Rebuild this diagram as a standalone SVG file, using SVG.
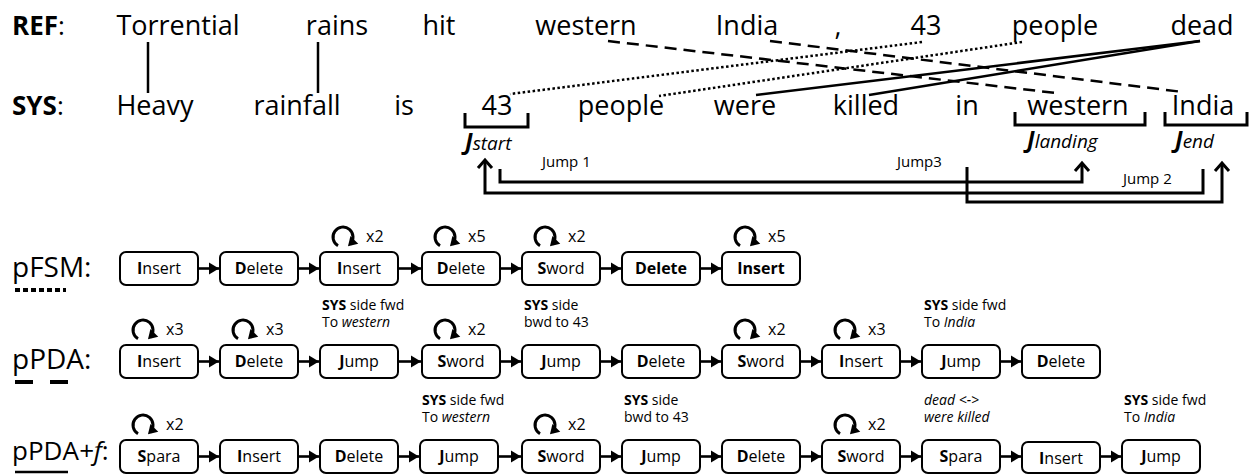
<svg xmlns="http://www.w3.org/2000/svg" width="1250" height="474" viewBox="0 0 1250 474">
<defs>
<style>
.w{font-family:"Open Sans","Liberation Sans",sans-serif;font-size:27px;fill:#000;text-anchor:middle}
.lab{font-family:"Open Sans","Liberation Sans",sans-serif;font-size:26px;fill:#000}
.rl{font-family:"Open Sans","Liberation Sans",sans-serif;font-size:28px;fill:#000}
.b{font-weight:bold}
.j{font-family:"Open Sans","Liberation Sans",sans-serif;font-size:15px;fill:#000}
.J{font-family:"Open Sans","Liberation Sans",sans-serif;font-style:italic;fill:#000}
.box rect{fill:#fff;stroke:#000;stroke-width:2}
.bt{font-family:"Open Sans","Liberation Sans",sans-serif;font-size:16px;fill:#000;text-anchor:middle}
.ann{font-family:"Open Sans","Liberation Sans",sans-serif;font-size:14px;fill:#000}
.cnt{font-family:"Open Sans","Liberation Sans",sans-serif;font-size:16px;fill:#000}
.lp{fill:none;stroke:#000;stroke-width:3;marker-end:url(#lh)}
.ar{fill:none;stroke:#000;stroke-width:2.6;marker-end:url(#tri)}
.al{fill:none;stroke:#000;stroke-width:2.5}
.dash{stroke-dasharray:12 7}
.dot{stroke-dasharray:2.5 2.5}
.jp{fill:none;stroke:#000;stroke-width:3}
</style>
<marker id="tri" markerUnits="userSpaceOnUse" markerWidth="14" markerHeight="14" viewBox="-12 -7 14 14" refX="0" refY="0" orient="auto">
<path d="M-10,-6 L0,0 L-10,6 Z" fill="#000"/>
</marker>
<marker id="lh" markerUnits="userSpaceOnUse" markerWidth="14" markerHeight="14" viewBox="-9 -7 14 14" refX="0" refY="0" orient="auto">
<path d="M-6,-5.5 L3,0 L-6,5.5 Z" fill="#000"/>
</marker>
<marker id="chev" markerUnits="userSpaceOnUse" markerWidth="22" markerHeight="22" viewBox="-11 -11 22 22" refX="0" refY="0" orient="auto">
<path d="M-8,-7 L0,0 L-8,7" fill="none" stroke="#000" stroke-width="3"/>
</marker>
</defs>
<rect width="1250" height="474" fill="#fff"/>

<g id="ref-row">
<text class="lab" x="12" y="35"><tspan class="b">REF</tspan>:</text>
<text class="w" x="178" y="35">Torrential</text>
<text class="w" x="337" y="35">rains</text>
<text class="w" x="439" y="35">hit</text>
<text class="w" x="586" y="35">western</text>
<text class="w" x="747" y="35">India</text>
<text class="w" x="838" y="35">,</text>
<text class="w" x="926" y="35">43</text>
<text class="w" x="1055" y="35">people</text>
<text class="w" x="1202" y="35">dead</text>
</g>

<g id="sys-row">
<text class="lab" x="12" y="115"><tspan class="b">SYS</tspan>:</text>
<text class="w" x="155" y="115">Heavy</text>
<text class="w" x="297" y="115">rainfall</text>
<text class="w" x="404" y="115">is</text>
<text class="w" x="497" y="115">43</text>
<text class="w" x="621" y="115">people</text>
<text class="w" x="745" y="115">were</text>
<text class="w" x="866" y="115">killed</text>
<text class="w" x="967" y="115">in</text>
<text class="w" x="1078" y="115">western</text>
<text class="w" x="1203" y="115">India</text>
</g>

<g id="alignments">
<line class="al" x1="148" y1="42" x2="148" y2="93"/>
<line class="al" x1="318" y1="42" x2="318" y2="93"/>
<line class="al dash" x1="608" y1="41" x2="1056" y2="93"/>
<line class="al dash" x1="770" y1="41" x2="1183" y2="92"/>
<line class="al dot" x1="922" y1="42" x2="510" y2="94"/>
<line class="al dot" x1="1022" y1="42" x2="659" y2="96"/>
<line class="al" x1="1200" y1="41" x2="756" y2="95"/>
<line class="al" x1="1200" y1="41" x2="869" y2="95"/>
</g>

<g id="jump-markers">
<path class="jp" d="M465,113 V127 H528 V113"/>
<path class="jp" d="M1015,112 V125 H1145 V112"/>
<path class="jp" d="M1165,112 V125 H1247 V112"/>
<text class="J" x="465" y="150"><tspan class="b" font-size="23">J</tspan><tspan font-size="19">start</tspan></text>
<text class="J" x="1027" y="148"><tspan class="b" font-size="23">J</tspan><tspan font-size="19">landing</tspan></text>
<text class="J" x="1175" y="148"><tspan class="b" font-size="23">J</tspan><tspan font-size="19">end</tspan></text>
</g>

<g id="jumps">
<path class="jp" d="M500,169 V182 H1082 V163" marker-end="url(#chev)"/>
<path class="jp" d="M1203,169 V193 H485 V160" marker-end="url(#chev)"/>
<path class="jp" d="M967,167 V202 H1222 V163" marker-end="url(#chev)"/>
<text class="j" x="542" y="167">Jump 1</text>
<text class="j" x="897" y="167">Jump3</text>
<text class="j" x="1123" y="184">Jump 2</text>
</g>

<g id="labels">
<text class="rl" x="12" y="277">pFSM:</text>
<line x1="15" y1="290" x2="66" y2="290" stroke="#000" stroke-width="4" stroke-dasharray="5 3"/>
<text class="rl" x="12" y="369">pPDA:</text>
<line x1="15" y1="382" x2="33" y2="382" stroke="#000" stroke-width="4"/>
<line x1="50" y1="382" x2="68" y2="382" stroke="#000" stroke-width="4"/>
<text class="lab" x="12" y="460">pPDA<tspan font-style="italic">+f</tspan>:</text>
<line x1="15" y1="472" x2="68" y2="472" stroke="#000" stroke-width="2.5"/>
</g>

<!-- pFSM row: top 252 -->
<g id="fsm1" class="box"><rect x="120" y="252" width="78" height="33" rx="6"/><text class="bt" x="159" y="274"><tspan class="b">I</tspan>nsert</text></g>
<g id="fsm2" class="box"><rect x="220" y="252" width="78" height="33" rx="6"/><text class="bt" x="259" y="274"><tspan class="b">D</tspan>elete</text></g>
<g id="fsm3" class="box"><rect x="320" y="252" width="78" height="33" rx="6"/><text class="bt" x="359" y="274"><tspan class="b">I</tspan>nsert</text><path class="lp" d="M338,245.7 A10 10 0 1 1 350.1,244.1"/><text class="cnt" x="366" y="242">x2</text></g>
<g id="fsm4" class="box"><rect x="422" y="252" width="78" height="33" rx="6"/><text class="bt" x="461" y="274"><tspan class="b">D</tspan>elete</text><path class="lp" d="M440,245.7 A10 10 0 1 1 452.1,244.1"/><text class="cnt" x="468" y="242">x5</text></g>
<g id="fsm5" class="box"><rect x="522" y="252" width="78" height="33" rx="6"/><text class="bt" x="561" y="274"><tspan class="b">S</tspan>word</text><path class="lp" d="M540,245.7 A10 10 0 1 1 552.1,244.1"/><text class="cnt" x="568" y="242">x2</text></g>
<g id="fsm6" class="box"><rect x="622" y="252" width="78" height="33" rx="6"/><text class="bt b" x="661" y="274">Delete</text></g>
<g id="fsm7" class="box"><rect x="722" y="252" width="78" height="33" rx="6"/><text class="bt b" x="761" y="274">Insert</text><path class="lp" d="M740,245.7 A10 10 0 1 1 752.1,244.1"/><text class="cnt" x="768" y="242">x5</text></g>

<!-- pPDA row: top 345 -->
<g id="pda1" class="box"><rect x="120" y="345" width="78" height="33" rx="6"/><text class="bt" x="159" y="367"><tspan class="b">I</tspan>nsert</text><path class="lp" d="M138,338.7 A10 10 0 1 1 150.1,337.1"/><text class="cnt" x="166" y="335">x3</text></g>
<g id="pda2" class="box"><rect x="220" y="345" width="78" height="33" rx="6"/><text class="bt" x="259" y="367"><tspan class="b">D</tspan>elete</text><path class="lp" d="M238,338.7 A10 10 0 1 1 250.1,337.1"/><text class="cnt" x="266" y="335">x3</text></g>
<g id="pda3" class="box"><rect x="320" y="345" width="78" height="33" rx="6"/><text class="bt" x="359" y="367"><tspan class="b">J</tspan>ump</text><text class="ann" x="322" y="310"><tspan class="b">SYS</tspan> side fwd</text><text class="ann" x="322" y="327">To <tspan font-style="italic">western</tspan></text></g>
<g id="pda4" class="box"><rect x="422" y="345" width="78" height="33" rx="6"/><text class="bt" x="461" y="367"><tspan class="b">S</tspan>word</text><path class="lp" d="M440,338.7 A10 10 0 1 1 452.1,337.1"/><text class="cnt" x="468" y="335">x2</text></g>
<g id="pda5" class="box"><rect x="522" y="345" width="78" height="33" rx="6"/><text class="bt" x="561" y="367"><tspan class="b">J</tspan>ump</text><text class="ann" x="524" y="310"><tspan class="b">SYS</tspan> side</text><text class="ann" x="524" y="327">bwd to 43</text></g>
<g id="pda6" class="box"><rect x="622" y="345" width="78" height="33" rx="6"/><text class="bt" x="661" y="367"><tspan class="b">D</tspan>elete</text></g>
<g id="pda7" class="box"><rect x="722" y="345" width="78" height="33" rx="6"/><text class="bt" x="761" y="367"><tspan class="b">S</tspan>word</text><path class="lp" d="M740,338.7 A10 10 0 1 1 752.1,337.1"/><text class="cnt" x="768" y="335">x2</text></g>
<g id="pda8" class="box"><rect x="822" y="345" width="78" height="33" rx="6"/><text class="bt" x="861" y="367"><tspan class="b">I</tspan>nsert</text><path class="lp" d="M840,338.7 A10 10 0 1 1 852.1,337.1"/><text class="cnt" x="868" y="335">x3</text></g>
<g id="pda9" class="box"><rect x="922" y="345" width="78" height="33" rx="6"/><text class="bt" x="961" y="367"><tspan class="b">J</tspan>ump</text><text class="ann" x="924" y="310"><tspan class="b">SYS</tspan> side fwd</text><text class="ann" x="924" y="327">To <tspan font-style="italic">India</tspan></text></g>
<g id="pda10" class="box"><rect x="1022" y="345" width="78" height="33" rx="6"/><text class="bt" x="1061" y="367"><tspan class="b">D</tspan>elete</text></g>

<!-- pPDA+f row: top 440 -->
<g id="pf1" class="box"><rect x="120" y="440" width="78" height="33" rx="6"/><text class="bt" x="159" y="462"><tspan class="b">S</tspan>para</text><path class="lp" d="M138,433.7 A10 10 0 1 1 150.1,432.1"/><text class="cnt" x="166" y="430">x2</text></g>
<g id="pf2" class="box"><rect x="220" y="440" width="78" height="33" rx="6"/><text class="bt" x="259" y="462"><tspan class="b">I</tspan>nsert</text></g>
<g id="pf3" class="box"><rect x="320" y="440" width="78" height="33" rx="6"/><text class="bt" x="359" y="462"><tspan class="b">D</tspan>elete</text></g>
<g id="pf4" class="box"><rect x="420" y="440" width="78" height="33" rx="6"/><text class="bt" x="459" y="462"><tspan class="b">J</tspan>ump</text><text class="ann" x="422" y="405"><tspan class="b">SYS</tspan> side fwd</text><text class="ann" x="422" y="422">To <tspan font-style="italic">western</tspan></text></g>
<g id="pf5" class="box"><rect x="522" y="440" width="78" height="33" rx="6"/><text class="bt" x="561" y="462"><tspan class="b">S</tspan>word</text><path class="lp" d="M540,433.7 A10 10 0 1 1 552.1,432.1"/><text class="cnt" x="568" y="430">x2</text></g>
<g id="pf6" class="box"><rect x="622" y="440" width="78" height="33" rx="6"/><text class="bt" x="661" y="462"><tspan class="b">J</tspan>ump</text><text class="ann" x="624" y="405"><tspan class="b">SYS</tspan> side</text><text class="ann" x="624" y="422">bwd to 43</text></g>
<g id="pf7" class="box"><rect x="722" y="440" width="78" height="33" rx="6"/><text class="bt" x="761" y="462"><tspan class="b">D</tspan>elete</text></g>
<g id="pf8" class="box"><rect x="822" y="440" width="78" height="33" rx="6"/><text class="bt" x="861" y="462"><tspan class="b">S</tspan>word</text><path class="lp" d="M840,433.7 A10 10 0 1 1 852.1,432.1"/><text class="cnt" x="868" y="430">x2</text></g>
<g id="pf9" class="box"><rect x="922" y="440" width="78" height="33" rx="6"/><text class="bt" x="961" y="462"><tspan class="b">S</tspan>para</text><text class="ann" x="924" y="405" font-style="italic">dead &lt;-&gt;</text><text class="ann" x="924" y="422" font-style="italic">were killed</text></g>
<g id="pf10" class="box"><rect x="1022" y="442" width="78" height="31" rx="6"/><text class="bt" x="1061" y="464"><tspan class="b">I</tspan>nsert</text></g>
<g id="pf11" class="box"><rect x="1122" y="440" width="78" height="33" rx="6"/><text class="bt" x="1161" y="462"><tspan class="b">J</tspan>ump</text><text class="ann" x="1124" y="405"><tspan class="b">SYS</tspan> side fwd</text><text class="ann" x="1124" y="422">To <tspan font-style="italic">India</tspan></text></g>

<g id="connectors">
<path class="ar" d="M198,268.5 H219"/>
<path class="ar" d="M298,268.5 H319"/>
<path class="ar" d="M398,268.5 H421"/>
<path class="ar" d="M500,268.5 H521"/>
<path class="ar" d="M600,268.5 H621"/>
<path class="ar" d="M700,268.5 H721"/>

<path class="ar" d="M198,361.5 H219"/>
<path class="ar" d="M298,361.5 H319"/>
<path class="ar" d="M398,361.5 H421"/>
<path class="ar" d="M500,361.5 H521"/>
<path class="ar" d="M600,361.5 H621"/>
<path class="ar" d="M700,361.5 H721"/>
<path class="ar" d="M800,361.5 H821"/>
<path class="ar" d="M900,361.5 H921"/>
<path class="ar" d="M1000,361.5 H1021"/>

<path class="ar" d="M198,456.5 H219"/>
<path class="ar" d="M298,456.5 H319"/>
<path class="ar" d="M398,456.5 H419"/>
<path class="ar" d="M498,456.5 H521"/>
<path class="ar" d="M600,456.5 H621"/>
<path class="ar" d="M700,456.5 H721"/>
<path class="ar" d="M800,456.5 H821"/>
<path class="ar" d="M900,456.5 H921"/>
<path class="ar" d="M1000,456.5 H1021"/>
<path class="ar" d="M1100,456.5 H1121"/>
</g>
</svg>
